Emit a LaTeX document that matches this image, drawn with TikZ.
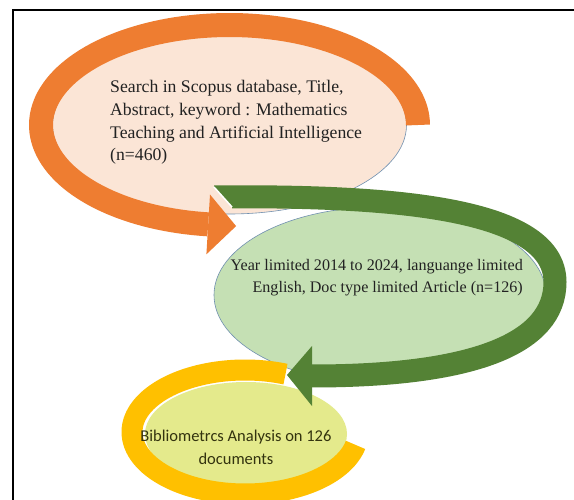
\documentclass[tikz,border=0pt]{standalone}
\usepackage{fontspec}
\setmainfont{Liberation Serif}
\newfontfamily\calibfont{Carlito}
\usetikzlibrary{shapes.geometric}
\definecolor{orng}{HTML}{EE7D31}
\definecolor{peach}{HTML}{FBE5D6}
\definecolor{grn}{HTML}{548235}
\definecolor{lgrn}{HTML}{C5E0B4}
\definecolor{gold}{HTML}{FFC000}
\definecolor{lyel}{HTML}{E4EA8C}
\definecolor{edgeblue}{HTML}{7090B0}
\definecolor{txt}{HTML}{222222}
\definecolor{oliv}{HTML}{33330F}
\begin{document}
\begin{tikzpicture}[x=1pt,y=-1pt,
  blob/.style={ellipse, inner sep=0pt, draw=edgeblue, line width=0.6pt},
  serifA/.style={inner sep=0pt, text=txt, font=\fontsize{17.7}{22.8}\selectfont},
  serifB/.style={inner sep=0pt, text=txt, font=\fontsize{16.1}{22}\selectfont},
  sansC/.style={inner sep=0pt, text=oliv, font=\calibfont\fontsize{16.5}{23}\selectfont}]
\useasboundingbox (0,0) rectangle (574,500);
\fill[white] (0,0) rectangle (574,500);
\draw[line width=1.6pt] (13,500) -- (13,10) -- (574,10);

% first stage
\node[blob, fill=peach, minimum width=354pt, minimum height=178pt] (p) at (229.5,125) {};
\draw[orng, line width=24pt] plot[domain=0:-263.5, samples=120] ({229.5+188.5*cos(\x)},{125+100*sin(\x)});
\fill[orng] (210,194.5) -- (236.1,226.1) -- (206.4,254.3) -- cycle;

% second stage
\node[blob, fill=lgrn, minimum width=332pt, minimum height=176pt] (g) at (380,295) {};

% third stage
\node[ellipse, inner sep=0pt, fill=lyel, minimum width=202pt, minimum height=104pt] (y) at (246,434) {};
\draw[gold, line width=21pt] plot[domain=-69:-348, samples=120] ({245+113*cos(\x)},{432+62*sin(\x)});

% green arrow
\begin{scope}
\clip (232,207) -- (214,187) -- (214,120) -- (600,120) -- (600,460) -- (232,460) -- cycle;
\draw[grn, line width=23pt] (205,197) .. controls (380,195) and (555,205) .. (555,282) .. controls (555,345) and (470,376) .. (312,376);
\end{scope}
\draw[white, line width=1.5pt] (214,187) -- (232,207);
\fill[grn] (312,346) -- (287,375) -- (312,406) -- cycle;

% texts
\node[serifA, anchor=north west, align=left] (t1) at (110,80) {Search in Scopus database, Title,\\Abstract, keyword : Mathematics\\Teaching and Artificial Intelligence\\(n=460)};
\node[serifB, anchor=north east, align=right] (t2) at (523,259) {Year limited 2014 to 2024, languange limited\\English, Doc type limited Article (n=126)};
\node[sansC, anchor=north, align=center] (t3) at (236,430) {Bibliometrcs Analysis on 126\\documents};
\end{tikzpicture}
\end{document}
